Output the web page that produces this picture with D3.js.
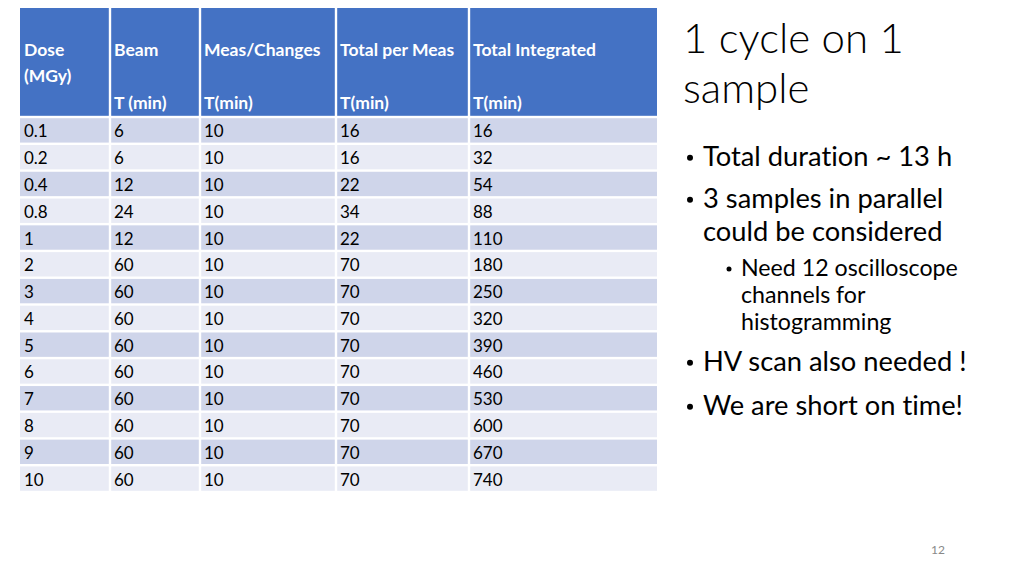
<html>
<head>
<meta charset="utf-8">
<style>
body { margin: 0; background: #ffffff; }
svg { display: block; }
text { font-family: Lato, "Open Sans", sans-serif; font-variant-ligatures: none; }
</style>
</head>
<body>
<div id="slide"></div>

<script src="https://d3js.org/d3.v7.min.js"></script>
<script type="text/javascript">
// table data
var dose = ["0.1", "0.2", "0.4", "0.8", "1", "2", "3", "4", "5", "6", "7", "8", "9", "10"];
var beam = [6, 6, 12, 24, 12, 60, 60, 60, 60, 60, 60, 60, 60, 60];
var meas = [10, 10, 10, 10, 10, 10, 10, 10, 10, 10, 10, 10, 10, 10];
var totalPerMeas = [16, 16, 22, 34, 22, 70, 70, 70, 70, 70, 70, 70, 70, 70];
var totalIntegrated = [16, 32, 54, 88, 110, 180, 250, 320, 390, 460, 530, 600, 670, 740];

var headerTop = [["Dose", "(MGy)"], ["Beam"], ["Meas/Changes"], ["Total per Meas"], ["Total Integrated"]];
var headerUnit = ["", "T (min)", "T(min)", "T(min)", "T(min)"];

var title = ["1 cycle on 1", "sample"];
var bullets = [
  {level: 0, lines: ["Total duration ~ 13 h"]},
  {level: 0, lines: ["3 samples in parallel", "could be considered"]},
  {level: 1, lines: ["Need 12 oscilloscope", "channels for", "histogramming"]},
  {level: 0, lines: ["HV scan also needed !"]},
  {level: 0, lines: ["We are short on time!"]}
];
var pageNum = "12";

var W = 1024, H = 576;
var svg = d3.select("#slide").append("svg")
  .attr("width", W).attr("height", H);

// column edges of the table
var colEdges = [20, 110, 200, 336, 469, 657];
var cols = d3.range(5);
var columns = [dose, beam, meas, totalPerMeas, totalIntegrated];

var headerY0 = 8, headerY1 = 117;
var y = d3.scaleBand()
  .domain(d3.range(dose.length))
  .range([headerY1, 492])
  .paddingInner(0);

var gap = 1.2;
var tbl = svg.append("g");

// header cells
tbl.selectAll("rect.hdr")
  .data(cols)
  .enter().append("rect")
  .attr("class", "hdr")
  .attr("x", function(c){ return colEdges[c] + (c > 0 ? gap : 0); })
  .attr("y", headerY0)
  .attr("width", function(c){ return colEdges[c+1] - colEdges[c] - (c > 0 ? gap : 0) - (c < 4 ? gap : 0); })
  .attr("height", headerY1 - headerY0 - gap)
  .attr("fill", "#4472c4");

cols.forEach(function(c){
  var tx = colEdges[c] + 4;
  headerTop[c].forEach(function(t, i){
    tbl.append("text")
      .attr("x", tx).attr("y", 56 + i*26)
      .attr("fill", "#ffffff")
      .attr("font-weight", "bold")
      .attr("font-size", 17.5)
      .text(t);
  });
  if (headerUnit[c]) {
    tbl.append("text")
      .attr("x", tx).attr("y", 109)
      .attr("fill", "#ffffff")
      .attr("font-weight", "bold")
      .attr("font-size", 17.5)
      .text(headerUnit[c]);
  }
});

// body cells
dose.forEach(function(d, r){
  cols.forEach(function(c){
    tbl.append("rect")
      .attr("x", colEdges[c] + (c > 0 ? gap : 0))
      .attr("y", y(r) + gap)
      .attr("width", colEdges[c+1] - colEdges[c] - (c > 0 ? gap : 0) - (c < 4 ? gap : 0))
      .attr("height", y.bandwidth() - 2*gap)
      .attr("fill", r % 2 == 0 ? "#cfd5ea" : "#e9ebf5");
    tbl.append("text")
      .attr("x", colEdges[c] + 4)
      .attr("y", y(r) + y.bandwidth()/2 + 7)
      .attr("fill", "#000000")
      .attr("font-size", 17)
      .text(columns[c][r]);
  });
});

// title
title.forEach(function(t, i){
  svg.append("text")
    .attr("x", 683).attr("y", 53 + i*50)
    .attr("font-size", 42)
    .attr("font-weight", 300)
    .attr("fill", "#000000")
    .text(t);
});

// bullets
var lineY = [166, 208, 241, 276, 303, 330, 371, 415];
var k = 0;
bullets.forEach(function(b){
  var fs = b.level == 0 ? 27.3 : 23.2;
  var dotX = b.level == 0 ? 690 : 729;
  var textX = b.level == 0 ? 703 : 741;
  b.lines.forEach(function(line, i){
    if (i == 0) {
      svg.append("circle")
        .attr("cx", dotX).attr("cy", lineY[k] - fs*0.3)
        .attr("r", b.level == 0 ? 3 : 2.5)
        .attr("fill", "#000000");
    }
    svg.append("text")
      .attr("x", textX).attr("y", lineY[k])
      .attr("font-size", fs)
      .attr("fill", "#000000")
      .text(line);
    k++;
  });
});

svg.append("text")
  .attr("x", 938).attr("y", 554)
  .attr("text-anchor", "middle")
  .attr("font-size", 12)
  .attr("fill", "#898989")
  .text(pageNum);
</script>
</body>
</html>
